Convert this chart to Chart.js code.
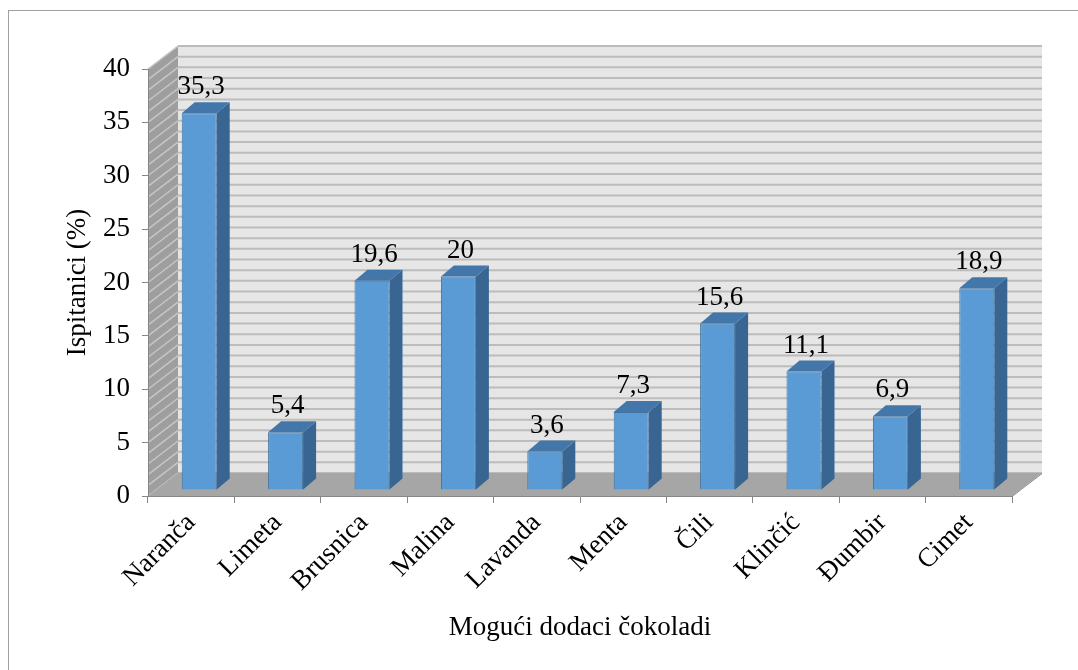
<!DOCTYPE html>
<html>
<head>
<meta charset="utf-8">
<script src="https://cdn.jsdelivr.net/npm/chart.js@4.4.1/dist/chart.umd.min.js"></script>
<style>
  html, body { margin: 0; padding: 0; background: #fff; }
  #wrap { position: relative; width: 1078px; height: 670px; }
</style>
</head>
<body>
<div id="wrap"><canvas id="chart"></canvas></div>
<script>
// data
const categories = ['Naranča', 'Limeta', 'Brusnica', 'Malina', 'Lavanda', 'Menta', 'Čili', 'Klinčić', 'Đumbir', 'Cimet'];
const percentages = [35.3, 5.4, 19.6, 20, 3.6, 7.3, 15.6, 11.1, 6.9, 18.9];
const yMin = 0;
const yMax = 40;
const yStep = 5;

// 3D look (pixels)
const WALL_DX = 30, WALL_DY = -23;   // depth of the walls / floor
const BAR_DX = 8, BAR_DY = -6;       // bars sit a bit behind the front plane
const BAR_DEPTH_X = 13, BAR_DEPTH_Y = -11;

const FONT = { family: "'Liberation Serif', 'Times New Roman', serif", size: 27 };
const AXIS_GREY = '#868686';

function commaNum(v) {
    return String(v).replace('.', ',');
}

function poly(ctx, pts, fill) {
    ctx.beginPath();
    ctx.moveTo(pts[0][0], pts[0][1]);
    for (let i = 1; i < pts.length; i++) ctx.lineTo(pts[i][0], pts[i][1]);
    ctx.closePath();
    ctx.fillStyle = fill;
    ctx.fill();
}

// Draws frame, back wall, side wall, floor, bar sides/tops and value labels
const depthPlugin = {
    id: 'depth3d',
    beforeDraw(chart) {
        const { ctx, chartArea: a, scales: { y } } = chart;
        const top = y.getPixelForValue(yMax);
        const bot = y.getPixelForValue(yMin);
        ctx.save();

        // outer frame
        ctx.strokeStyle = '#a0a0a0';
        ctx.lineWidth = 1;
        ctx.strokeRect(8.5, 10.5, 1200, 1000);

        // back wall
        ctx.fillStyle = '#e6e6e6';
        ctx.fillRect(a.left + WALL_DX, top + WALL_DY, a.right - a.left, bot - top);
        ctx.strokeStyle = '#bcbcbc';
        ctx.lineWidth = 2;
        for (let v = yMin; v <= yMax; v++) {
            const py = y.getPixelForValue(v) + WALL_DY;
            ctx.beginPath();
            ctx.moveTo(a.left + WALL_DX, py);
            ctx.lineTo(a.right + WALL_DX, py);
            ctx.stroke();
        }

        // left wall
        poly(ctx, [[a.left, bot], [a.left, top], [a.left + WALL_DX, top + WALL_DY], [a.left + WALL_DX, bot + WALL_DY]], '#9e9e9e');
        ctx.strokeStyle = '#c6c6c6';
        ctx.lineWidth = 1.5;
        for (let v = yMin; v <= yMax; v++) {
            const py = y.getPixelForValue(v);
            ctx.beginPath();
            ctx.moveTo(a.left, py);
            ctx.lineTo(a.left + WALL_DX, py + WALL_DY);
            ctx.stroke();
        }

        // floor
        poly(ctx, [[a.left, bot], [a.right, bot], [a.right + WALL_DX, bot + WALL_DY], [a.left + WALL_DX, bot + WALL_DY]], '#a6a6a6');
        ctx.strokeStyle = AXIS_GREY;
        ctx.lineWidth = 1;
        ctx.beginPath();
        ctx.moveTo(a.right, bot + 0.5);
        ctx.lineTo(a.right + WALL_DX, bot + WALL_DY + 0.5);
        ctx.stroke();

        ctx.restore();
    },
    beforeDatasetsDraw(chart) {
        const { ctx } = chart;
        const meta = chart.getDatasetMeta(0);
        ctx.save();
        ctx.translate(BAR_DX, BAR_DY);
        meta.data.forEach(bar => {
            const { x, y, base, width } = bar.getProps(['x', 'y', 'base', 'width'], true);
            const l = x - width / 2, r = x + width / 2;
            poly(ctx, [[r, y], [r + BAR_DEPTH_X, y + BAR_DEPTH_Y], [r + BAR_DEPTH_X, base + BAR_DEPTH_Y], [r, base]], '#386592');
            poly(ctx, [[l, y], [l + BAR_DEPTH_X, y + BAR_DEPTH_Y], [r + BAR_DEPTH_X, y + BAR_DEPTH_Y], [r, y]], '#4377aa');
        });
        // stays translated for the front faces, restored afterwards
    },
    afterDatasetsDraw(chart) {
        const { ctx } = chart;
        ctx.restore();
        const meta = chart.getDatasetMeta(0);
        ctx.save();
        ctx.font = `${FONT.size}px ${FONT.family}`;
        ctx.fillStyle = '#000';
        ctx.textAlign = 'center';
        ctx.textBaseline = 'middle';
        meta.data.forEach((bar, i) => {
            const { x, y } = bar.getProps(['x', 'y'], true);
            ctx.fillText(commaNum(percentages[i]), x + BAR_DX + 2, y + BAR_DY - 26);
        });
        ctx.restore();
    }
};

const ctx = document.getElementById('chart').getContext('2d');
new Chart(ctx, {
    type: 'bar',
    data: {
        labels: categories,
        datasets: [{
            label: 'Ispitanici (%)',
            data: percentages,
            backgroundColor: '#5b9bd5',
            borderColor: '#41719c',
            borderWidth: 1,
            barPercentage: 0.405,
            categoryPercentage: 1
        }]
    },
    options: {
        responsive: true,
        maintainAspectRatio: false,
        animation: false,
        layout: {
            padding: { top: 69, right: 66, left: 0, bottom: 0 }
        },
        plugins: {
            legend: { display: false },
            tooltip: { enabled: false }
        },
        scales: {
            x: {
                offset: true,
                grid: {
                    offset: true,
                    drawOnChartArea: false,
                    drawTicks: true,
                    tickLength: 7,
                    color: AXIS_GREY
                },
                border: { color: AXIS_GREY },
                ticks: {
                    minRotation: 45,
                    maxRotation: 45,
                    padding: 4,
                    color: '#000',
                    font: FONT
                },
                title: {
                    display: true,
                    text: 'Mogući dodaci čokoladi',
                    color: '#000',
                    font: FONT,
                    padding: { top: 0, bottom: 26 }
                },
                afterFit: scale => { scale.height = 174; }
            },
            y: {
                min: yMin,
                max: yMax,
                grid: {
                    drawOnChartArea: false,
                    drawTicks: true,
                    tickLength: 6,
                    color: AXIS_GREY
                },
                border: { color: AXIS_GREY },
                ticks: {
                    stepSize: yStep,
                    padding: 12,
                    color: '#000',
                    font: FONT,
                    callback: v => commaNum(v)
                },
                title: {
                    display: true,
                    text: 'Ispitanici (%)',
                    color: '#000',
                    font: FONT,
                    padding: { top: 62, bottom: 0 }
                },
                afterFit: scale => { scale.width = 148; }
            }
        }
    },
    plugins: [depthPlugin]
});
</script>
</body>
</html>
